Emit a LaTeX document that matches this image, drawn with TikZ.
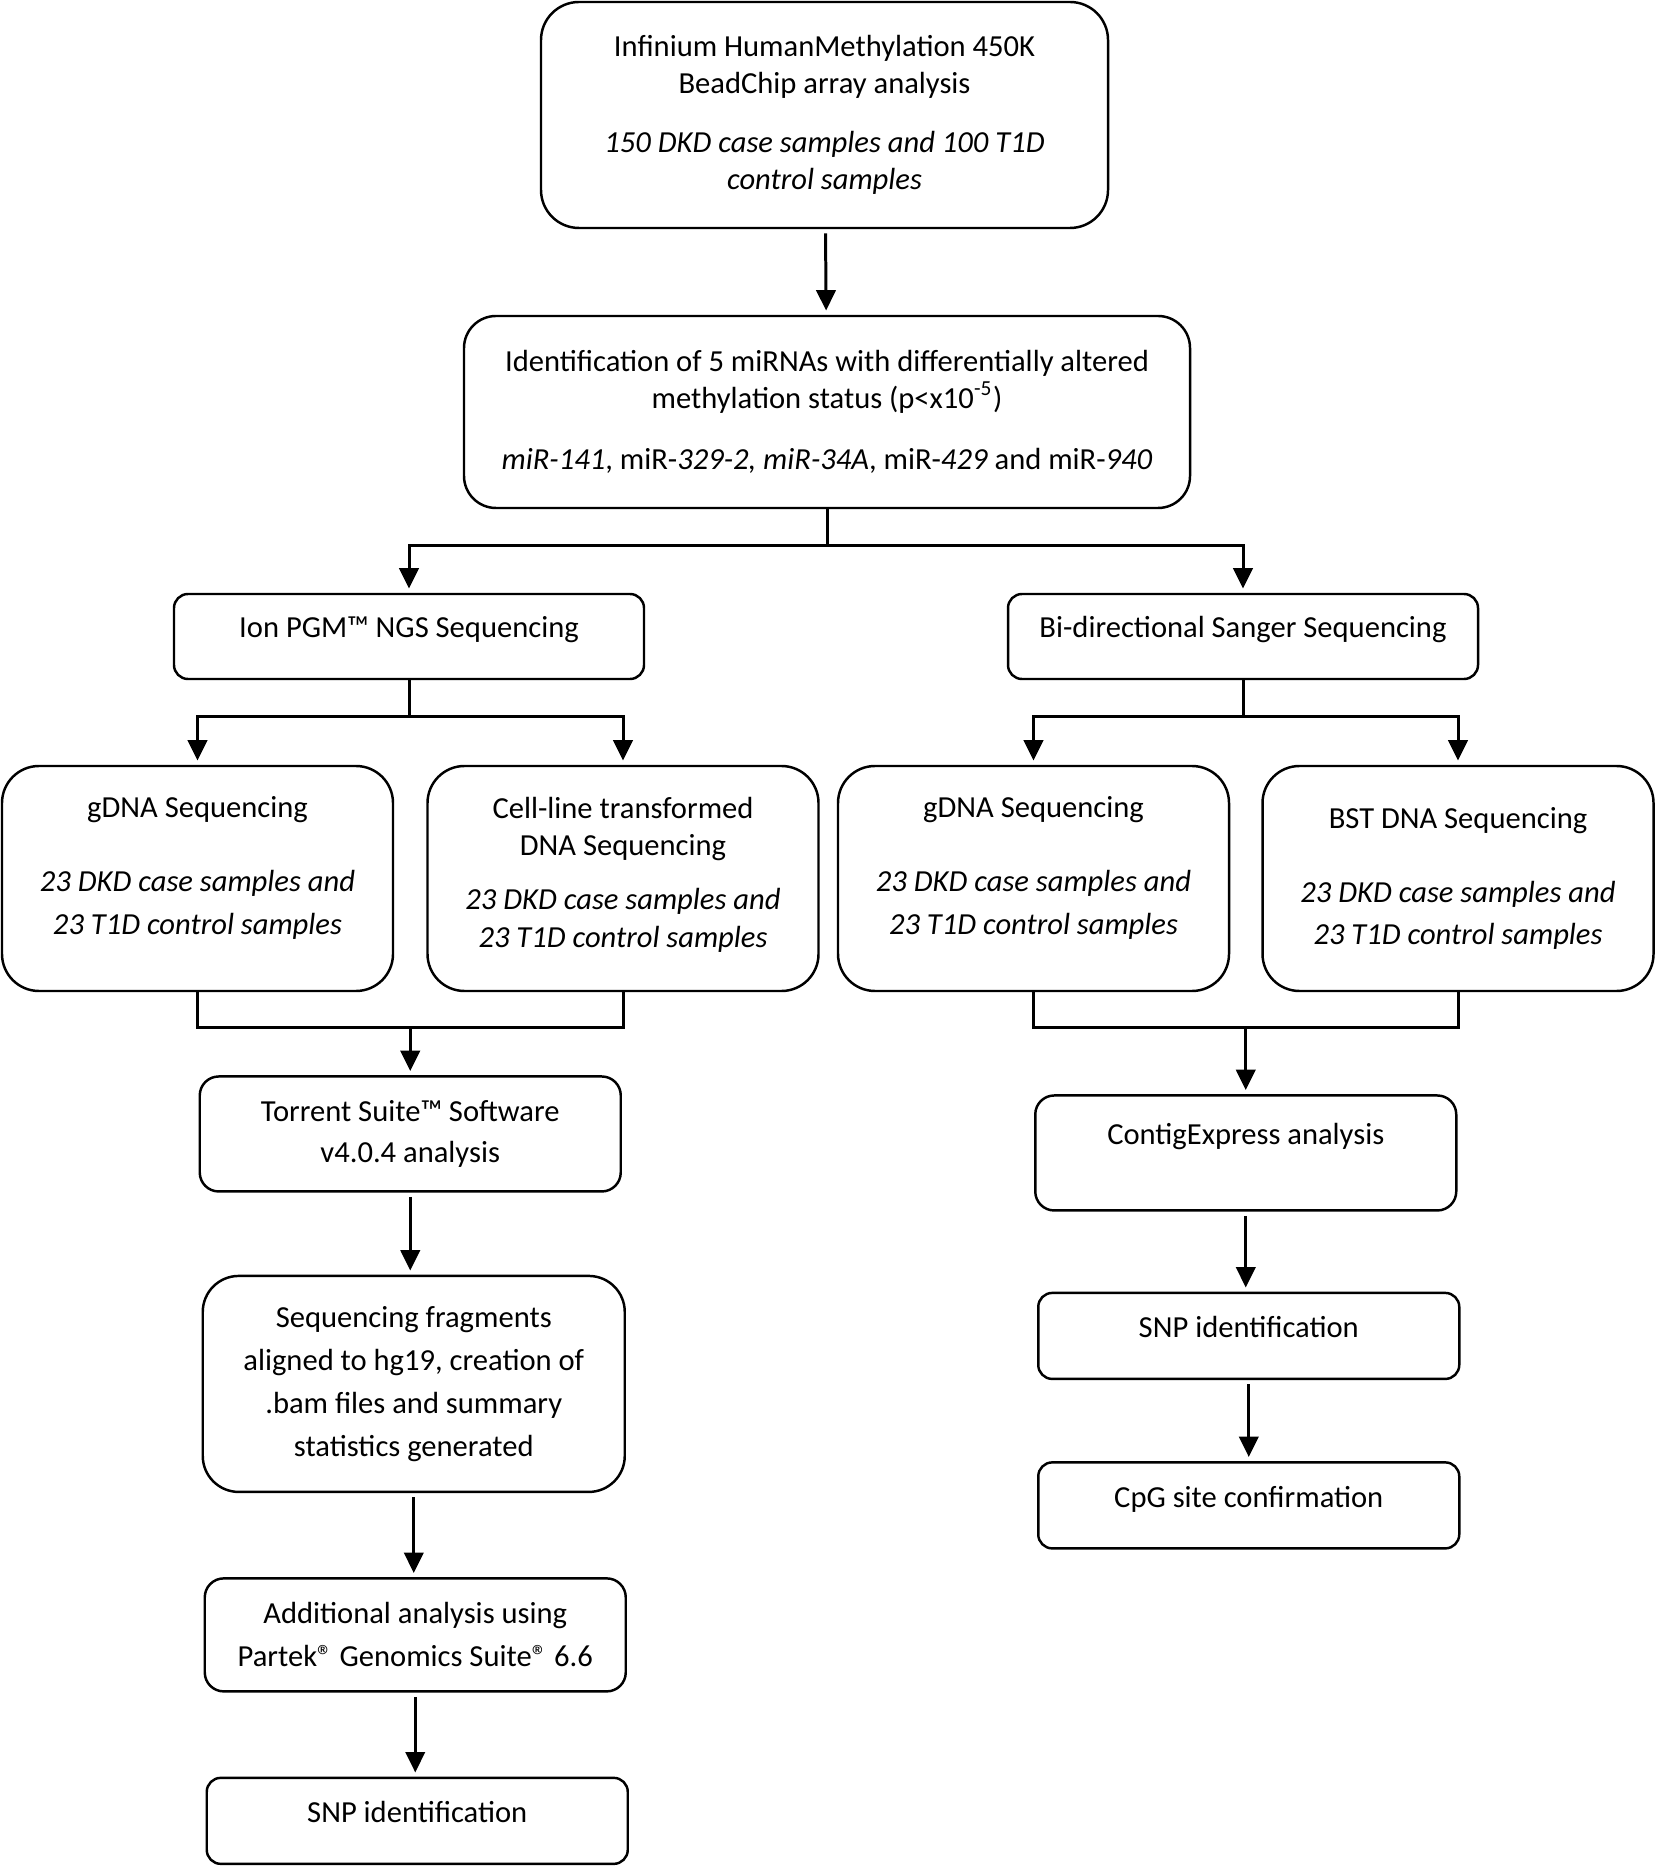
\documentclass[tikz,border=0pt]{standalone}
\usepackage{fontspec}
\setmainfont{Carlito}
\usetikzlibrary{arrows.meta,positioning,calc}

\begin{document}
\begin{tikzpicture}%
		[
			font={\fontsize{8.7}{10.5}\selectfont},
			every text node part/.style={align=center}, % centred lines in every box
			state/.style={
				draw,
				rectangle,
				line width=0.7pt,
				inner sep=2pt,
			},
			branch/.style={state, text depth=5.4pt, minimum width=4.7cm, minimum height=0.85cm, rounded corners=0.14cm},
			tall/.style={state, minimum width=3.91cm, minimum height=2.25cm, rounded corners=0.37cm},
			tool/.style={state, minimum width=4.21cm, minimum height=1.15cm, rounded corners=0.19cm},
			result/.style={state, text depth=5pt, minimum width=4.21cm, minimum height=0.86cm, rounded corners=0.14cm},
			link/.style={line width=0.85pt},
			arch/.style={link, -{Triangle[width=5.5pt,length=5.8pt]}, shorten >=1.2pt},
			flow/.style={arch, shorten <=1.2pt},
		]
		\useasboundingbox (0,0) rectangle (16.56,-18.66);

		\node[state, minimum width=5.67cm, minimum height=2.26cm, rounded corners=0.38cm] (array) at (8.245,-1.15)
		{Infinium HumanMethylation 450K\\BeadChip array analysis\\[6.4pt]
		 \textit{150 DKD case samples and 100 T1D}\\\textit{control samples}};
		\node[state, minimum width=7.26cm, minimum height=1.92cm, rounded corners=0.32cm] (mirna) at (8.27,-4.12)
		{Identification of 5 miRNAs with differentially altered\\methylation status (p<x10\textsuperscript{-5})\\[6.8pt]
		 \textit{miR-141}, miR-\textit{329-2, miR-34A}, miR-\textit{429} and miR-\textit{940}};

		\node[branch] (ion) at (4.09,-6.365) {Ion PGM™ NGS Sequencing};
		\node[branch] (sanger) at (12.43,-6.365) {Bi-directional Sanger Sequencing};

		\node[tall, text depth=7.5pt] (gdnaL) at (1.975,-8.785)
		{gDNA Sequencing\\[10.5pt]\textit{23 DKD case samples and}\\[1.7pt]\textit{23 T1D control samples}};
		\node[tall, text depth=3.5pt] (cellDNA) at (6.23,-8.785)
		{Cell-line transformed\\DNA Sequencing\\[4.7pt]\textit{23 DKD case samples and}\\[0.3pt]\textit{23 T1D control samples}};
		\node[tall, text depth=7.5pt] (gdnaR) at (10.335,-8.785)
		{gDNA Sequencing\\[10.5pt]\textit{23 DKD case samples and}\\[1.7pt]\textit{23 T1D control samples}};
		\node[tall] (bst) at (14.58,-8.785)
		{BST DNA Sequencing\\[10.5pt]\textit{23 DKD case samples and}\\[1.7pt]\textit{23 T1D control samples}};

		\coordinate (mergeL) at ($(gdnaL.south)!0.5!(cellDNA.south)+(0,-0.35)$);
		\coordinate (mergeR) at ($(gdnaR.south)!0.5!(bst.south)+(0,-0.35)$);

		% Ion PGM column
		\node[tool, below=0.48cm of mergeL] (torrent) {Torrent Suite™ Software\\[1.3pt]v4.0.4 analysis};
		\node[state, minimum width=4.22cm, minimum height=2.16cm, rounded corners=0.36cm, below=0.82cm of torrent, xshift=0.035cm] (align)
		{Sequencing fragments\\[1.7pt]aligned to hg19, creation of\\[1.7pt].bam files and summary\\[1.7pt]statistics generated};
		\node[tool, minimum height=1.13cm, below=0.84cm of align, xshift=0.015cm] (partek)
		{Additional analysis using\\[1.7pt]Partek® Genomics Suite® 6.6};
		\node[result, below=0.84cm of partek, xshift=0.02cm] (snpL) {SNP identification};

		% Sanger column
		\node[tool, text depth=11pt, below=0.67cm of mergeR] (contig) {ContigExpress analysis};
		\node[result, below=0.80cm of contig, xshift=0.03cm] (snpR) {SNP identification};
		\node[result, below=0.81cm of snpR] (cpg) {CpG site confirmation};

		\draw[flow] (array) -- (mirna);

		\draw[arch] (mirna.south) -- ++(0,-0.36) -| (ion.north);
		\draw[arch] (mirna.south) -- ++(0,-0.36) -| (sanger.north);

		\draw[arch] (ion.south) -- ++(0,-0.36) -| (gdnaL.north);
		\draw[arch] (ion.south) -- ++(0,-0.36) -| (cellDNA.north);
		\draw[arch] (sanger.south) -- ++(0,-0.36) -| (gdnaR.north);
		\draw[arch] (sanger.south) -- ++(0,-0.36) -| (bst.north);

		\draw[link] (gdnaL.south) |- (mergeL) -| (cellDNA.south);
		\draw[arch] (mergeL) -- (torrent);
		\draw[link] (gdnaR.south) |- (mergeR) -| (bst.south);
		\draw[arch] (mergeR) -- (contig);

		\draw[flow] (torrent) -- (torrent |- align.north);
		\draw[flow] (align) -- (align |- partek.north);
		\draw[flow] (partek) -- (partek |- snpL.north);

		\draw[flow] (contig) -- (contig |- snpR.north);
		\draw[flow] (snpR) -- (cpg);
	\end{tikzpicture}
\end{document}
